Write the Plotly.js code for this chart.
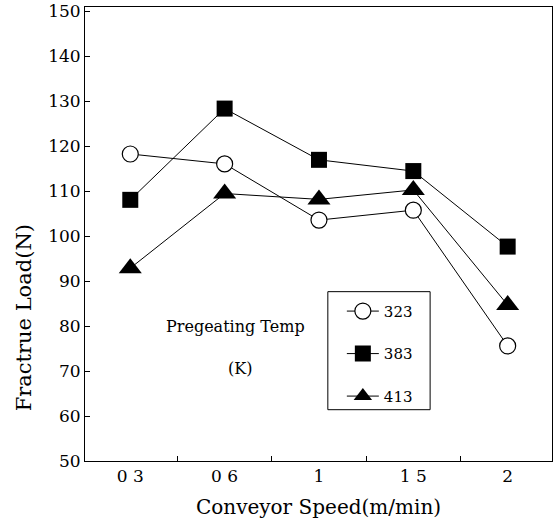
<!DOCTYPE html>
<html>
<head>
<meta charset="utf-8">
<script src="https://cdn.plot.ly/plotly-3.0.1.min.js"></script>
<style>html,body{margin:0;padding:0;background:#fff;}#chart{width:555px;height:521px;}</style>
</head>
<body>
<div id="chart"></div>
<script>
// Data
const speeds = ["0 3", "0 6", "1", "1 5", "2"];
const load323 = [118.3, 116.1, 103.6, 105.8, 75.6];
const load383 = [108.1, 128.4, 117.0, 114.5, 97.7];
const load413 = [92.9, 109.5, 108.2, 110.3, 84.7];
const seriesNames = ["323", "383", "413"];
const yTicks = [50, 60, 70, 80, 90, 100, 110, 120, 130, 140, 150];

const FONT = "DejaVu Serif";

const traces = [
  {x: speeds, y: load323, name: seriesNames[0], legendgroup: "a", mode: "lines+markers", type: "scatter",
   line: {color: "#000", width: 1},
   marker: {symbol: "circle", size: 16, color: "#fff", line: {color: "#000", width: 1.2}}},
  {x: speeds, y: load383, name: seriesNames[1], legendgroup: "b", mode: "lines+markers", type: "scatter",
   line: {color: "#000", width: 1},
   marker: {symbol: "square", size: 16, color: "#000", line: {color: "#000", width: 0}}},
  {x: speeds, y: load413, name: seriesNames[2], legendgroup: "c", mode: "lines+markers", type: "scatter",
   line: {color: "#000", width: 1},
   marker: {symbol: "triangle-up", size: 20, color: "#000", line: {color: "#000", width: 0}}}
];

const layout = {
  width: 555, height: 521,
  margin: {l: 85, r: 3, t: 7, b: 60},
  paper_bgcolor: "#fff", plot_bgcolor: "#fff",
  font: {family: FONT, color: "#000", size: 17},
  showlegend: true,
  legend: {
    x: 0.550, y: 0.366, xanchor: "left", yanchor: "top",
    borderwidth: 0, bgcolor: "rgba(0,0,0,0)",
    font: {family: FONT, size: 15, color: "#000"},
    traceorder: "grouped", tracegroupgap: 20, itemwidth: 32
  },
  xaxis: {
    type: "category", range: [-0.48, 4.47],
    showline: true, linecolor: "#000", linewidth: 1, mirror: true,
    ticks: "inside", tickson: "boundaries", ticklen: 5, tickcolor: "#000",
    showgrid: false, zeroline: false,
    tickfont: {family: FONT, size: 17},
    title: {text: "Conveyor Speed(m/min)", font: {family: FONT, size: 20}, standoff: 14}
  },
  yaxis: {
    range: [50, 151], tickvals: yTicks,
    showline: true, linecolor: "#000", linewidth: 1, mirror: true,
    ticks: "inside", ticklen: 5, tickcolor: "#000",
    showgrid: false, zeroline: false, ticklabeloverflow: "allow",
    tickfont: {family: FONT, size: 17}
  },
  shapes: [
    {type: "rect", xref: "paper", yref: "paper", x0: 0.520, x1: 0.739, y0: 0.113, y1: 0.373,
     line: {color: "#000", width: 1}, fillcolor: "rgba(0,0,0,0)"}
  ],
  annotations: [
    {text: "Fractrue Load(N)", xref: "paper", yref: "paper", x: -0.131, y: 0.316,
     xanchor: "center", yanchor: "middle",
     textangle: -90, showarrow: false, font: {family: FONT, size: 21}},
    {text: "Pregeating Temp", xref: "paper", yref: "paper", x: 0.323, y: 0.296,
     xanchor: "center", yanchor: "middle",
     showarrow: false, font: {family: FONT, size: 16}},
    {text: "(K)", xref: "paper", yref: "paper", x: 0.332, y: 0.203,
     xanchor: "center", yanchor: "middle",
     showarrow: false, font: {family: FONT, size: 16}}
  ]
};

Plotly.newPlot("chart", traces, layout, {staticPlot: true, displayModeBar: false});
</script>
</body>
</html>
